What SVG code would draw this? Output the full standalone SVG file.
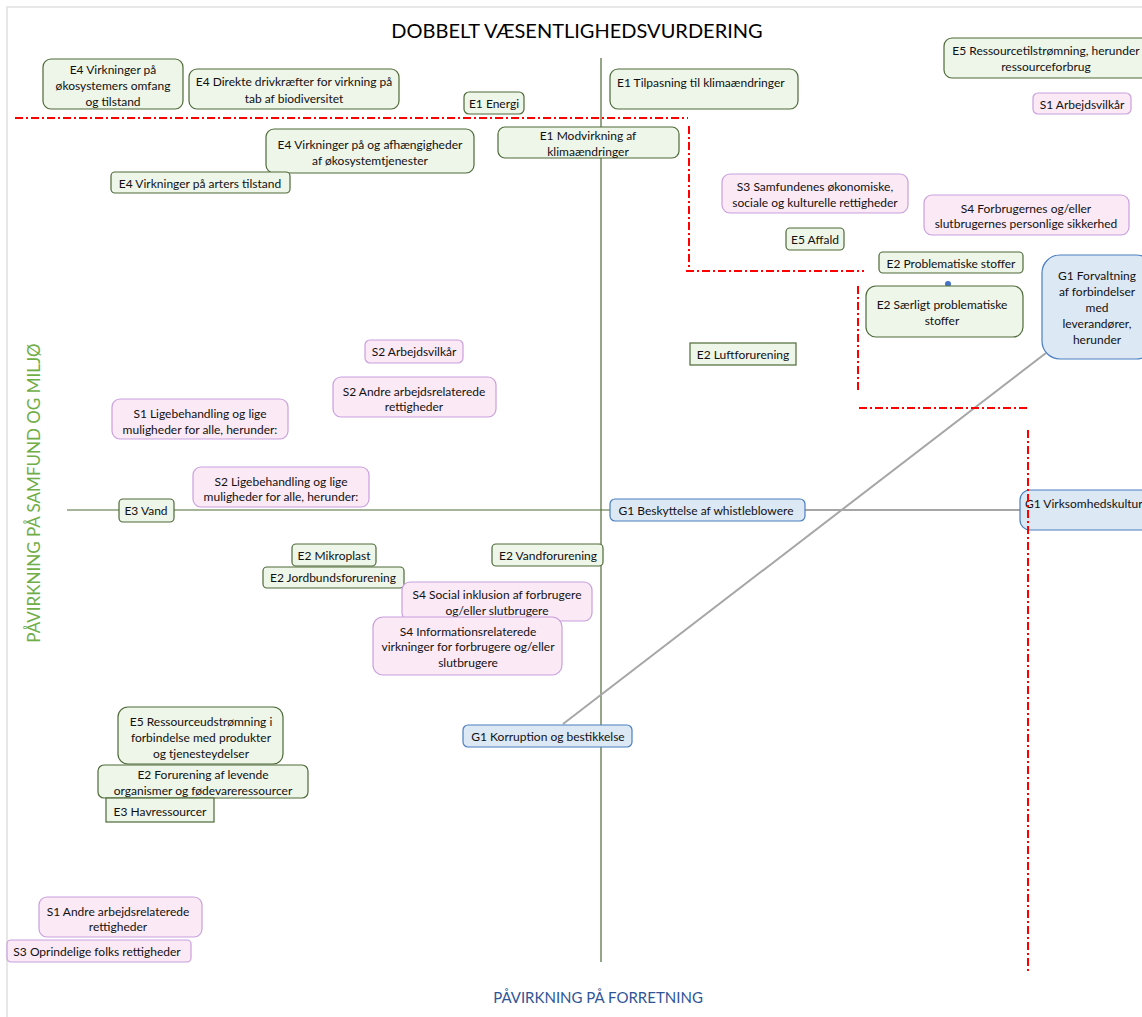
<svg xmlns="http://www.w3.org/2000/svg" width="1142" height="1017" viewBox="0 0 1142 1017">
<style>
text{font-family:Lato,"Liberation Sans",sans-serif;font-size:12px;fill:#111;dominant-baseline:central;text-anchor:middle}
.g rect{fill:#eef5e9;stroke:#4e6a38;stroke-width:1.2}
.p rect{fill:#fce9f6;stroke:#c8a0de;stroke-width:1.2}
.b rect{fill:#dde8f5;stroke:#4a7fc0;stroke-width:1.2}
.red{stroke:#ff0000;stroke-width:2;stroke-dasharray:8 3 2 3;fill:none}
.axis{stroke:#4f6b35;stroke-width:1.2;fill:none}
.con{stroke:#a6a6a6;stroke-width:2;fill:none}
.s{text-anchor:start}
</style>
<rect x="0" y="0" width="1142" height="1017" fill="#ffffff"/>
<rect x="7" y="7" width="1160" height="1030" fill="none" stroke="#e0e0e0" stroke-width="1.5"/>
<text x="577" y="30" style="font-size:20px;fill:#000">DOBBELT VÆSENTLIGHEDSVURDERING</text>
<text x="598" y="997" style="font-size:15px;fill:#2f5597">PÅVIRKNING PÅ FORRETNING</text>
<text transform="translate(33,493) rotate(-90)" style="font-size:17px;fill:#70ad47">PÅVIRKNING PÅ SAMFUND OG MILJØ</text>

<g id="axes">
<line class="axis" x1="601" y1="58" x2="601" y2="962"/>
<line class="axis" x1="67" y1="510" x2="610" y2="510"/>
</g>
<g id="connectors">
<line class="con" x1="805" y1="510" x2="1020" y2="510"/>
<line class="con" x1="563" y1="724" x2="1046" y2="353"/>
</g>

<g id="n1" class="g"><rect x="43" y="59" width="140" height="50" rx="8"/><text x="113" y="69">E4 Virkninger på</text><text x="113" y="85">økosystemers omfang</text><text x="113" y="101">og tilstand</text></g>
<g id="n2" class="g"><rect x="189" y="69" width="210" height="40" rx="8"/><text x="294" y="81">E4 Direkte drivkræfter for virkning på</text><text x="294" y="98">tab af biodiversitet</text></g>
<g id="n3" class="g"><rect x="464" y="92" width="60" height="22" rx="5"/><text x="494" y="103">E1 Energi</text></g>
<g id="n4" class="g"><rect x="610" y="69" width="188" height="40" rx="8"/><text class="s" x="617" y="82">E1 Tilpasning til klimaændringer</text></g>
<g id="n5" class="g"><rect x="944" y="38" width="206" height="40" rx="8"/><text x="1046" y="50">E5 Ressourcetilstrømning, herunder</text><text x="1046" y="66">ressourceforbrug</text></g>
<g id="n6" class="p"><rect x="1033" y="93" width="98" height="21" rx="5"/><text x="1082" y="104">S1 Arbejdsvilkår</text></g>
<g id="n7" class="g"><rect x="498" y="127" width="181" height="31" rx="7"/><text x="588" y="135">E1 Modvirkning af</text><text x="588" y="151">klimaændringer</text></g>
<g id="n8" class="g"><rect x="266" y="129" width="208" height="44" rx="8"/><text x="370" y="144">E4 Virkninger på og afhængigheder</text><text x="370" y="160">af økosystemtjenester</text></g>
<g id="n9" class="g"><rect x="111" y="172" width="179" height="21" rx="4"/><text x="200" y="183">E4 Virkninger på arters tilstand</text></g>
<g id="n10" class="p"><rect x="722" y="174" width="186" height="39" rx="8"/><text x="815" y="186">S3 Samfundenes økonomiske,</text><text x="815" y="202">sociale og kulturelle rettigheder</text></g>
<g id="n11" class="p"><rect x="924" y="195" width="205" height="40" rx="8"/><text x="1026" y="208">S4 Forbrugernes og/eller</text><text x="1026" y="223">slutbrugernes personlige sikkerhed</text></g>
<g id="n12" class="g"><rect x="786" y="228" width="58" height="22" rx="4"/><text x="815" y="239">E5 Affald</text></g>
<g id="n13" class="g"><rect x="879" y="252" width="144" height="21" rx="4"/><text x="951" y="263">E2  Problematiske stoffer</text></g>
<circle cx="948" cy="284" r="3" fill="#4472c4"/>
<g id="n14" class="g"><rect x="866" y="286" width="157" height="51" rx="10"/><text x="942" y="304">E2 Særligt problematiske</text><text x="942" y="320">stoffer</text></g>
<g id="n15" class="b"><rect x="1042" y="255" width="112" height="104" rx="18"/><text x="1097" y="275">G1 Forvaltning</text><text x="1097" y="291">af forbindelser</text><text x="1097" y="307">med</text><text x="1097" y="323">leverandører,</text><text x="1097" y="339">herunder</text></g>
<g id="n16" class="g"><rect x="690" y="343" width="106" height="22"/><text x="743" y="354">E2 Luftforurening</text></g>
<g id="n17" class="p"><rect x="365" y="340" width="98" height="23" rx="5"/><text x="414" y="351">S2 Arbejdsvilkår</text></g>
<g id="n18" class="p"><rect x="333" y="377" width="163" height="40" rx="8"/><text x="414" y="391">S2 Andre arbejdsrelaterede</text><text x="414" y="406">rettigheder</text></g>
<g id="n19" class="p"><rect x="112" y="399" width="176" height="40" rx="8"/><text x="200" y="413">S1 Ligebehandling og lige</text><text x="200" y="429">muligheder for alle, herunder:</text></g>
<g id="n20" class="p"><rect x="193" y="467" width="176" height="40" rx="8"/><text x="281" y="481">S2 Ligebehandling og lige</text><text x="281" y="496">muligheder for alle, herunder:</text></g>
<g id="n21" class="g"><rect x="119" y="499" width="55" height="23" rx="4"/><text x="146" y="510">E3 Vand</text></g>
<g id="n22" class="b"><rect x="610" y="499" width="195" height="22" rx="5"/><text x="706" y="510">G1 Beskyttelse af whistleblowere</text></g>
<g id="n23" class="b"><rect x="1020" y="490" width="140" height="40" rx="10"/><text class="s" x="1025" y="503">G1 Virksomhedskultur</text></g>
<g id="n24" class="g"><rect x="292" y="544" width="84" height="22" rx="4"/><text x="334" y="555">E2 Mikroplast</text></g>
<g id="n25" class="g"><rect x="492" y="544" width="111" height="22" rx="4"/><text x="548" y="555">E2 Vandforurening</text></g>
<g id="n26" class="g"><rect x="263" y="567" width="141" height="21" rx="4"/><text x="333" y="577">E2 Jordbundsforurening</text></g>
<g id="n27" class="p"><rect x="402" y="582" width="190" height="39" rx="8"/><text x="497" y="594">S4 Social inklusion af forbrugere</text><text x="497" y="610">og/eller slutbrugere</text></g>
<g id="n28" class="p"><rect x="373" y="617" width="189" height="58" rx="10"/><text x="468" y="631">S4 Informationsrelaterede</text><text x="468" y="646">virkninger for forbrugere og/eller</text><text x="468" y="662">slutbrugere</text></g>
<g id="n29" class="g"><rect x="118" y="707" width="165" height="57" rx="10"/><text x="201" y="721">E5 Ressourceudstrømning i</text><text x="201" y="737">forbindelse med produkter</text><text x="201" y="753">og tjenesteydelser</text></g>
<g id="n30" class="g"><rect x="98" y="765" width="210" height="33" rx="6"/><text x="203" y="774">E2 Forurening af levende</text><text x="203" y="790">organismer og fødevareressourcer</text></g>
<g id="n31" class="g"><rect x="106" y="798" width="108" height="24"/><text x="160" y="811">E3 Havressourcer</text></g>
<g id="n32" class="b"><rect x="463" y="725" width="169" height="22" rx="5"/><text x="548" y="736">G1 Korruption og bestikkelse</text></g>
<g id="n33" class="p"><rect x="39" y="897" width="163" height="40" rx="8"/><text x="118" y="911">S1 Andre arbejdsrelaterede</text><text x="118" y="926">rettigheder</text></g>
<g id="n34" class="p"><rect x="7" y="940" width="184" height="22" rx="4"/><text x="97" y="951">S3 Oprindelige folks rettigheder</text></g>

<g id="boundaries">
<path class="red" d="M15 118 H688"/>
<path class="red" d="M689 126 V272"/>
<path class="red" d="M686 271 H864"/>
<path class="red" d="M858 286 V392"/>
<path class="red" d="M859 408 H1030"/>
<path class="red" d="M1028 430 V972"/>
</g>
</svg>
